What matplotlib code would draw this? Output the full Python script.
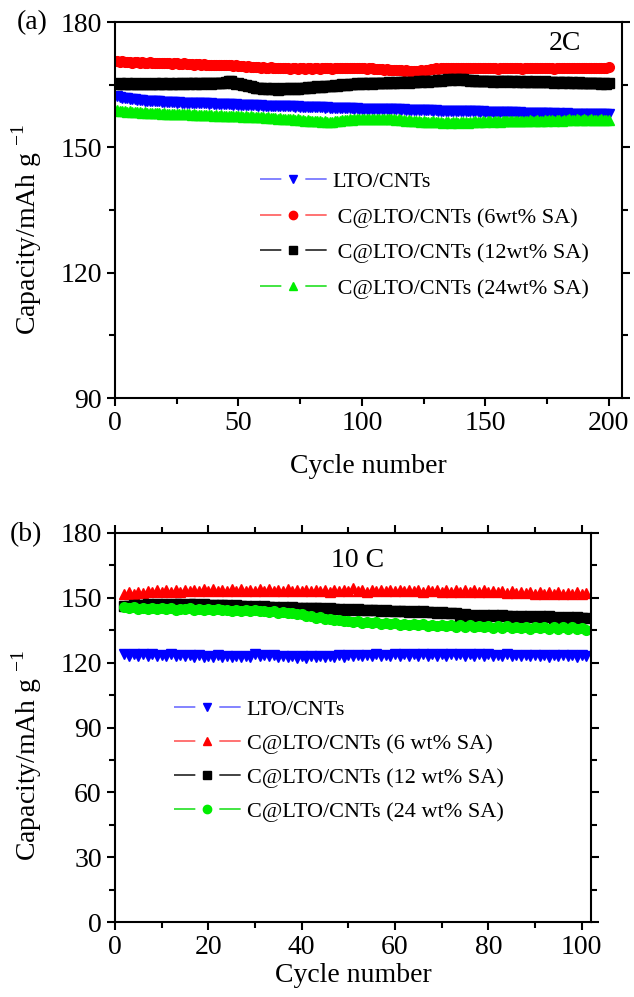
import numpy as np
import matplotlib
matplotlib.use('Agg')
import matplotlib.pyplot as plt
from matplotlib.ticker import MultipleLocator
from matplotlib.lines import Line2D

plt.rcParams['font.family'] = ['Liberation Serif', 'DejaVu Serif']
plt.rcParams['mathtext.fontset'] = 'custom'
plt.rcParams['mathtext.rm'] = 'Liberation Serif'
plt.rcParams['lines.scale_dashes'] = False

# (a) 2C, cycles 1-200
cyc_a = np.arange(1, 201)
lto_a = [
    162.4, 162.1, 161.9, 161.8, 161.7, 161.6, 161.5, 161.5, 161.4, 161.3, 161.3, 161.2, 161.2, 161.1, 161.1, 161.0, 161.0, 161.0, 160.9, 160.9,
    160.9, 160.8, 160.8, 160.8, 160.7, 160.8, 160.7, 160.7, 160.6, 160.7, 160.6, 160.6, 160.5, 160.6, 160.5, 160.5, 160.5, 160.4, 160.5, 160.4,
    160.4, 160.4, 160.3, 160.4, 160.3, 160.3, 160.3, 160.2, 160.3, 160.2, 160.2, 160.2, 160.1, 160.2, 160.1, 160.1, 160.1, 160.0, 160.1, 160.0,
    160.0, 160.0, 159.9, 160.0, 159.9, 159.9, 159.9, 159.8, 159.9, 159.8, 159.8, 159.8, 159.7, 159.8, 159.7, 159.7, 159.7, 159.7, 159.6, 159.7,
    159.6, 159.6, 159.6, 159.6, 159.5, 159.6, 159.5, 159.5, 159.5, 159.5, 159.4, 159.5, 159.4, 159.4, 159.4, 159.4, 159.3, 159.4, 159.3, 159.3,
    159.3, 159.3, 159.3, 159.2, 159.3, 159.2, 159.2, 159.2, 159.2, 159.1, 159.2, 159.1, 159.1, 159.1, 159.1, 159.0, 159.1, 159.0, 159.0, 159.0,
    159.0, 159.0, 158.9, 159.0, 158.9, 158.9, 158.9, 158.9, 158.8, 158.9, 158.8, 158.8, 158.8, 158.8, 158.7, 158.8, 158.7, 158.7, 158.7, 158.7,
    158.7, 158.6, 158.7, 158.6, 158.6, 158.6, 158.6, 158.5, 158.6, 158.5, 158.5, 158.5, 158.5, 158.5, 158.4, 158.5, 158.4, 158.4, 158.4, 158.4,
    158.4, 158.4, 158.3, 158.4, 158.3, 158.3, 158.3, 158.3, 158.3, 158.2, 158.3, 158.2, 158.2, 158.2, 158.2, 158.2, 158.1, 158.2, 158.1, 158.2,
    158.1, 158.1, 158.2, 158.1, 158.1, 158.1, 158.0, 158.1, 158.1, 158.0, 158.1, 158.0, 158.0, 158.1, 158.0, 158.0, 158.0, 157.9, 158.0, 158.0,
]
sa6_a = [
    170.6, 170.5, 170.6, 170.4, 170.5, 170.5, 170.3, 170.4, 170.5, 170.3, 170.4, 170.3, 170.2, 170.4, 170.3, 170.2, 170.3, 170.1, 170.2, 170.2,
    170.1, 170.2, 170.0, 170.1, 170.1, 169.9, 170.0, 170.1, 169.9, 169.9, 170.0, 169.8, 169.9, 169.9, 169.8, 169.9, 169.7, 169.8, 169.8, 169.7,
    169.8, 169.6, 169.7, 169.8, 169.6, 169.7, 169.6, 169.5, 169.6, 169.4, 169.5, 169.4, 169.3, 169.4, 169.3, 169.2, 169.3, 169.2, 169.1, 169.2,
    169.1, 169.0, 169.2, 169.1, 169.0, 169.1, 168.9, 169.0, 169.1, 168.9, 168.8, 169.0, 168.9, 168.8, 168.9, 169.0, 168.8, 168.9, 168.9, 168.8,
    168.9, 169.0, 168.8, 168.9, 169.0, 169.1, 168.9, 168.8, 169.0, 169.1, 169.0, 168.9, 169.1, 169.0, 168.9, 169.0, 169.1, 168.9, 169.0, 169.0,
    168.9, 168.8, 168.9, 168.9, 168.8, 168.7, 168.8, 168.7, 168.6, 168.7, 168.6, 168.5, 168.6, 168.5, 168.4, 168.5, 168.3, 168.4, 168.3, 168.2,
    168.3, 168.2, 168.3, 168.4, 168.2, 168.5, 168.6, 168.7, 168.8, 168.9, 168.8, 169.0, 168.9, 169.0, 169.1, 168.9, 169.0, 169.1, 169.0, 168.9,
    169.0, 169.1, 168.9, 169.0, 169.1, 168.9, 169.0, 168.9, 169.1, 169.0, 168.9, 169.0, 169.1, 168.9, 168.8, 169.0, 168.9, 169.1, 169.0, 168.9,
    169.0, 168.9, 169.1, 169.0, 168.8, 168.9, 169.0, 169.1, 168.9, 169.0, 168.9, 169.0, 169.1, 168.9, 169.0, 168.9, 169.0, 168.8, 168.9, 169.0,
    169.1, 168.9, 169.0, 168.9, 169.1, 169.0, 168.9, 169.0, 169.1, 168.9, 169.0, 169.0, 168.9, 169.1, 169.0, 168.9, 169.0, 169.1, 169.0, 169.2,
]
sa12_a = [
    165.2, 165.3, 165.1, 165.2, 165.3, 165.2, 165.1, 165.3, 165.2, 165.2, 165.1, 165.3, 165.2, 165.2, 165.1, 165.3, 165.2, 165.2, 165.3, 165.1,
    165.2, 165.3, 165.2, 165.1, 165.3, 165.2, 165.4, 165.2, 165.3, 165.2, 165.3, 165.4, 165.2, 165.3, 165.2, 165.3, 165.4, 165.3, 165.2, 165.3,
    165.4, 165.3, 165.5, 165.4, 165.7, 165.9, 165.8, 165.4, 165.2, 165.3, 165.1, 165.0, 164.9, 164.8, 164.6, 164.5, 164.3, 164.2, 164.1, 164.0,
    164.1, 163.9, 164.0, 164.1, 163.9, 163.8, 164.0, 164.1, 163.9, 164.0, 164.1, 164.2, 163.9, 164.0, 164.2, 164.3, 164.2, 164.4, 164.3, 164.5,
    164.4, 164.6, 164.5, 164.4, 164.6, 164.7, 164.6, 164.8, 164.9, 164.8, 165.0, 165.1, 165.0, 164.9, 165.1, 165.2, 165.1, 165.3, 165.2, 165.3,
    165.2, 165.4, 165.3, 165.2, 165.4, 165.5, 165.3, 165.4, 165.5, 165.4, 165.6, 165.5, 165.4, 165.6, 165.5, 165.6, 165.7, 165.6, 165.5, 165.7,
    165.6, 165.7, 165.8, 165.7, 165.9, 165.8, 165.7, 165.9, 166.0, 165.9, 166.1, 166.0, 166.2, 166.1, 166.3, 166.2, 166.4, 166.3, 166.2, 166.4,
    166.3, 166.2, 166.1, 166.0, 166.1, 165.9, 166.0, 165.8, 165.9, 166.0, 165.8, 165.9, 165.7, 165.8, 165.9, 165.7, 165.8, 165.9, 165.8, 165.7,
    165.8, 165.9, 165.7, 165.8, 165.6, 165.7, 165.8, 165.7, 165.6, 165.8, 165.7, 165.6, 165.7, 165.8, 165.6, 165.7, 165.6, 165.5, 165.7, 165.6,
    165.5, 165.6, 165.7, 165.5, 165.6, 165.4, 165.5, 165.6, 165.4, 165.5, 165.3, 165.4, 165.5, 165.3, 165.4, 165.3, 165.2, 165.3, 165.2, 165.3,
]
sa24_a = [
    158.9, 158.7, 158.6, 158.7, 158.5, 158.6, 158.5, 158.4, 158.5, 158.4, 158.3, 158.4, 158.3, 158.3, 158.2, 158.3, 158.2, 158.2, 158.1, 158.2,
    158.1, 158.1, 158.0, 158.1, 158.0, 158.0, 157.9, 158.0, 157.9, 157.9, 157.8, 157.9, 157.8, 157.8, 157.7, 157.8, 157.7, 157.7, 157.8, 157.6,
    157.7, 157.6, 157.7, 157.5, 157.6, 157.5, 157.6, 157.4, 157.5, 157.4, 157.5, 157.3, 157.4, 157.3, 157.4, 157.2, 157.3, 157.2, 157.3, 157.2,
    157.1, 157.2, 157.0, 157.1, 157.0, 156.9, 157.0, 156.8, 156.9, 156.8, 156.7, 156.8, 156.6, 156.7, 156.5, 156.6, 156.4, 156.5, 156.3, 156.4,
    156.3, 156.2, 156.3, 156.1, 156.2, 156.0, 156.1, 156.0, 156.2, 156.3, 156.4, 156.5, 156.6, 156.5, 156.7, 156.6, 156.8, 156.7, 156.8, 156.7,
    156.8, 156.7, 156.9, 156.8, 156.7, 156.8, 156.9, 156.7, 156.8, 156.9, 156.8, 156.7, 156.8, 156.6, 156.7, 156.5, 156.6, 156.4, 156.5, 156.3,
    156.4, 156.2, 156.3, 156.1, 156.2, 156.0, 156.1, 156.0, 156.2, 156.1, 156.0, 156.1, 155.9, 156.0, 156.1, 155.9, 156.0, 156.1, 155.9, 156.0,
    156.1, 156.0, 155.9, 156.1, 156.0, 156.2, 156.1, 156.0, 156.2, 156.1, 156.3, 156.2, 156.1, 156.3, 156.2, 156.1, 156.3, 156.2, 156.4, 156.3,
    156.2, 156.3, 156.4, 156.2, 156.3, 156.4, 156.3, 156.5, 156.4, 156.3, 156.5, 156.4, 156.3, 156.5, 156.4, 156.6, 156.5, 156.4, 156.6, 156.5,
    156.4, 156.6, 156.5, 156.7, 156.6, 156.5, 156.7, 156.6, 156.5, 156.7, 156.6, 156.5, 156.7, 156.6, 156.5, 156.6, 156.7, 156.6, 156.5, 156.6,
]

# (b) 10 C, cycles 2-101
cyc_b = np.arange(2, 102)
lto_b = [
    123.8, 123.2, 123.9, 123.3, 123.8, 123.1, 123.9, 123.2, 123.7, 123.1, 123.8, 123.0, 123.6, 122.9, 123.5, 122.8, 123.4, 122.7, 123.3, 122.6,
    123.4, 122.7, 123.3, 122.6, 123.2, 122.5, 123.1, 122.4, 123.8, 123.2, 123.7, 122.9, 123.4, 122.6, 123.2, 122.5, 123.1, 122.3, 123.0, 122.2,
    123.1, 122.4, 123.2, 122.5, 123.3, 122.6, 123.4, 122.7, 123.5, 122.9, 123.6, 123.0, 123.7, 123.0, 123.8, 123.1, 123.7, 123.0, 123.8, 123.2,
    123.9, 123.3, 124.0, 123.2, 123.9, 123.1, 123.8, 123.2, 123.9, 123.3, 124.0, 123.4, 123.9, 123.2, 123.8, 123.1, 123.9, 123.2, 123.8, 123.1,
    123.7, 123.0, 123.8, 123.1, 123.7, 123.0, 123.6, 122.9, 123.7, 123.0, 123.6, 122.8, 123.5, 122.9, 123.6, 123.0, 123.5, 122.8, 123.6, 123.0,
]
sa6_b = [
    151.8, 152.6, 152.0, 152.9, 152.3, 153.2, 152.5, 153.4, 152.7, 153.6, 152.8, 153.5, 152.9, 153.8, 153.0, 153.7, 153.1, 154.0, 153.2, 153.9,
    153.1, 153.8, 153.2, 154.1, 153.3, 153.9, 153.1, 153.8, 153.2, 154.0, 153.3, 153.9, 153.1, 153.8, 153.2, 153.9, 153.0, 153.8, 153.1, 153.7,
    153.0, 153.8, 153.1, 153.7, 152.9, 153.6, 153.0, 153.8, 153.1, 154.6, 153.0, 153.7, 152.9, 153.6, 153.0, 153.7, 153.1, 153.8, 153.0, 153.7,
    153.1, 153.8, 153.0, 153.7, 152.9, 153.6, 153.0, 153.7, 152.9, 153.6, 152.8, 153.5, 152.9, 153.6, 152.7, 153.4, 152.8, 153.5, 152.6, 153.3,
    152.5, 153.2, 152.3, 153.0, 152.2, 152.9, 152.1, 152.8, 152.0, 152.7, 151.8, 152.5, 151.9, 152.6, 151.7, 152.4, 151.8, 152.5, 151.6, 152.3,
]
sa12_b = [
    146.0, 146.4, 146.8, 146.5, 146.9, 147.0, 146.7, 147.1, 146.8, 147.2, 146.9, 147.0, 147.3, 146.9, 147.1, 147.2, 146.8, 147.0, 146.9, 146.7,
    146.8, 146.5, 146.7, 146.3, 146.5, 146.1, 146.3, 145.9, 146.1, 145.8, 146.0, 145.6, 145.8, 145.5, 145.7, 145.4, 145.6, 145.3, 145.5, 145.2,
    145.4, 145.1, 145.3, 144.6, 145.1, 144.8, 145.0, 144.6, 144.8, 144.5, 144.7, 144.3, 144.5, 144.2, 144.4, 144.0, 144.2, 143.9, 144.1, 143.8,
    143.9, 143.6, 143.8, 143.5, 143.7, 143.3, 143.5, 143.2, 143.4, 143.0, 143.2, 142.8, 140.2, 142.3, 141.8, 142.2, 141.7, 142.1, 141.6, 142.0,
    141.5, 141.9, 141.4, 141.8, 141.3, 141.7, 141.2, 141.6, 141.1, 141.5, 141.0, 141.4, 140.9, 141.3, 140.8, 141.2, 140.7, 141.1, 140.5, 140.9,
]
sa24_b = [
    145.8, 145.3, 145.6, 145.0, 145.4, 144.9, 145.2, 144.7, 145.1, 144.8, 145.2, 144.6, 145.0, 144.7, 145.1, 144.5, 144.9, 144.6, 145.0, 144.4,
    144.7, 144.2, 144.6, 144.0, 144.4, 143.9, 144.3, 143.8, 144.2, 143.7, 144.0, 143.5, 143.8, 143.2, 143.4, 142.8, 143.0, 142.3, 142.5, 141.8,
    141.5, 140.8, 141.0, 140.2, 140.4, 139.6, 139.9, 139.2, 139.5, 138.8, 139.2, 138.5, 138.9, 138.2, 138.7, 138.0, 138.5, 137.7, 138.3, 137.6,
    138.1, 137.4, 137.9, 137.2, 137.8, 137.0, 137.6, 136.8, 137.5, 136.8, 137.4, 136.6, 137.3, 136.5, 137.2, 136.4, 137.1, 136.3, 137.0, 136.2,
    136.9, 136.1, 136.8, 136.0, 136.7, 135.9, 136.6, 135.8, 136.7, 135.9, 136.6, 135.7, 136.5, 135.6, 136.4, 135.5, 136.3, 135.4, 136.2, 135.3,
]

labels_a = ['LTO/CNTs', ' C@LTO/CNTs (6wt% SA)', ' C@LTO/CNTs (12wt% SA)', ' C@LTO/CNTs (24wt% SA)']
labels_b = ['LTO/CNTs', 'C@LTO/CNTs (6 wt% SA)', 'C@LTO/CNTs (12 wt% SA)', 'C@LTO/CNTs (24 wt% SA)']

mcol = ['#0000ff', '#ff0000', '#000000', '#00ee00']
lcol = ['#6e6eff', '#ff5a5a', '#222222', '#22e022']

fig = plt.figure(figsize=(6.34, 9.97), dpi=100)
ax1 = fig.add_axes([0.1814, 0.6008, 0.7997, 0.3771])
ax2 = fig.add_axes([0.1814, 0.0752, 0.7508, 0.3902])

ms = 7
leg_fs = 16
hl = 3.0


def draw(ax, x, series, markers):
    handles = []
    for y, m, mc, lc in zip(series, markers, mcol, lcol):
        ax.plot(x, y, color=lc, lw=1.2, marker=m, ms=ms, mfc=mc, mec=mc)
        # legend key: line - marker - line, with gaps round the marker
        seg = hl * leg_fs * 0.32
        gap = hl * leg_fs - 2 * seg
        ln = Line2D([], [], color=lc, lw=1.2, linestyle=(0, (seg, gap)))
        mk = Line2D([], [], ls='none', marker=m, ms=6, mfc=mc, mec=mc)
        handles.append((ln, mk))
    return handles


h1 = draw(ax1, cyc_a, [lto_a, sa6_a, sa12_a, sa24_a], ['v', 'o', 's', '^'])
h2 = draw(ax2, cyc_b, [lto_b, sa6_b, sa12_b, sa24_b], ['v', '^', 's', 'o'])

ax1.set_xlim(0, 205.4)
ax1.set_ylim(90, 180)
ax1.xaxis.set_major_locator(MultipleLocator(50))
ax1.xaxis.set_minor_locator(MultipleLocator(25))
ax1.yaxis.set_major_locator(MultipleLocator(30))
ax1.yaxis.set_minor_locator(MultipleLocator(15))
ax1.tick_params(which='both', direction='out', width=1.5, labelsize=20, right=True, top=False)
ax1.tick_params(which='major', length=6)
ax1.tick_params(which='minor', length=4)

ax2.set_xlim(0, 102)
ax2.set_ylim(0, 180)
ax2.xaxis.set_major_locator(MultipleLocator(20))
ax2.xaxis.set_minor_locator(MultipleLocator(10))
ax2.yaxis.set_major_locator(MultipleLocator(30))
ax2.yaxis.set_minor_locator(MultipleLocator(15))
ax2.tick_params(which='both', direction='out', width=1.5, labelsize=20, right=True, top=True)
ax2.tick_params(which='major', length=6)
ax2.tick_params(which='minor', length=4)

for ax in (ax1, ax2):
    for s in ax.spines.values():
        s.set_linewidth(1.5)
    ax.set_ylabel('Capacity/mAh g $^{-1}$', fontsize=20)

ax1.set_xlabel('Cycle number', fontsize=20, labelpad=13)
ax2.set_xlabel('Cycle number', fontsize=20, labelpad=2)
ax1.yaxis.set_label_coords(-0.14, 0.45)
ax2.yaxis.set_label_coords(-0.15, 0.43)

ax1.text(0.887, 0.944, '2C', transform=ax1.transAxes, fontsize=20, ha='center', va='center')
ax2.text(0.51, 0.93, '10 C', transform=ax2.transAxes, fontsize=20, ha='center', va='center')
fig.text(0.027, 0.977, '(a)', fontsize=20, ha='left', va='center')
fig.text(0.016, 0.464, '(b)', fontsize=20, ha='left', va='center')

ax1.legend(h1, labels_a, loc='upper left', bbox_to_anchor=(0.286, 0.603), frameon=False, fontsize=leg_fs,
           handlelength=hl, handletextpad=0.25, labelspacing=0.68, borderpad=0, borderaxespad=0)
ax2.legend(h2, labels_b, loc='upper left', bbox_to_anchor=(0.124, 0.572), frameon=False, fontsize=leg_fs,
           handlelength=hl, handletextpad=0.27, labelspacing=0.6, borderpad=0, borderaxespad=0)

fig.savefig('out.png', dpi=100)
